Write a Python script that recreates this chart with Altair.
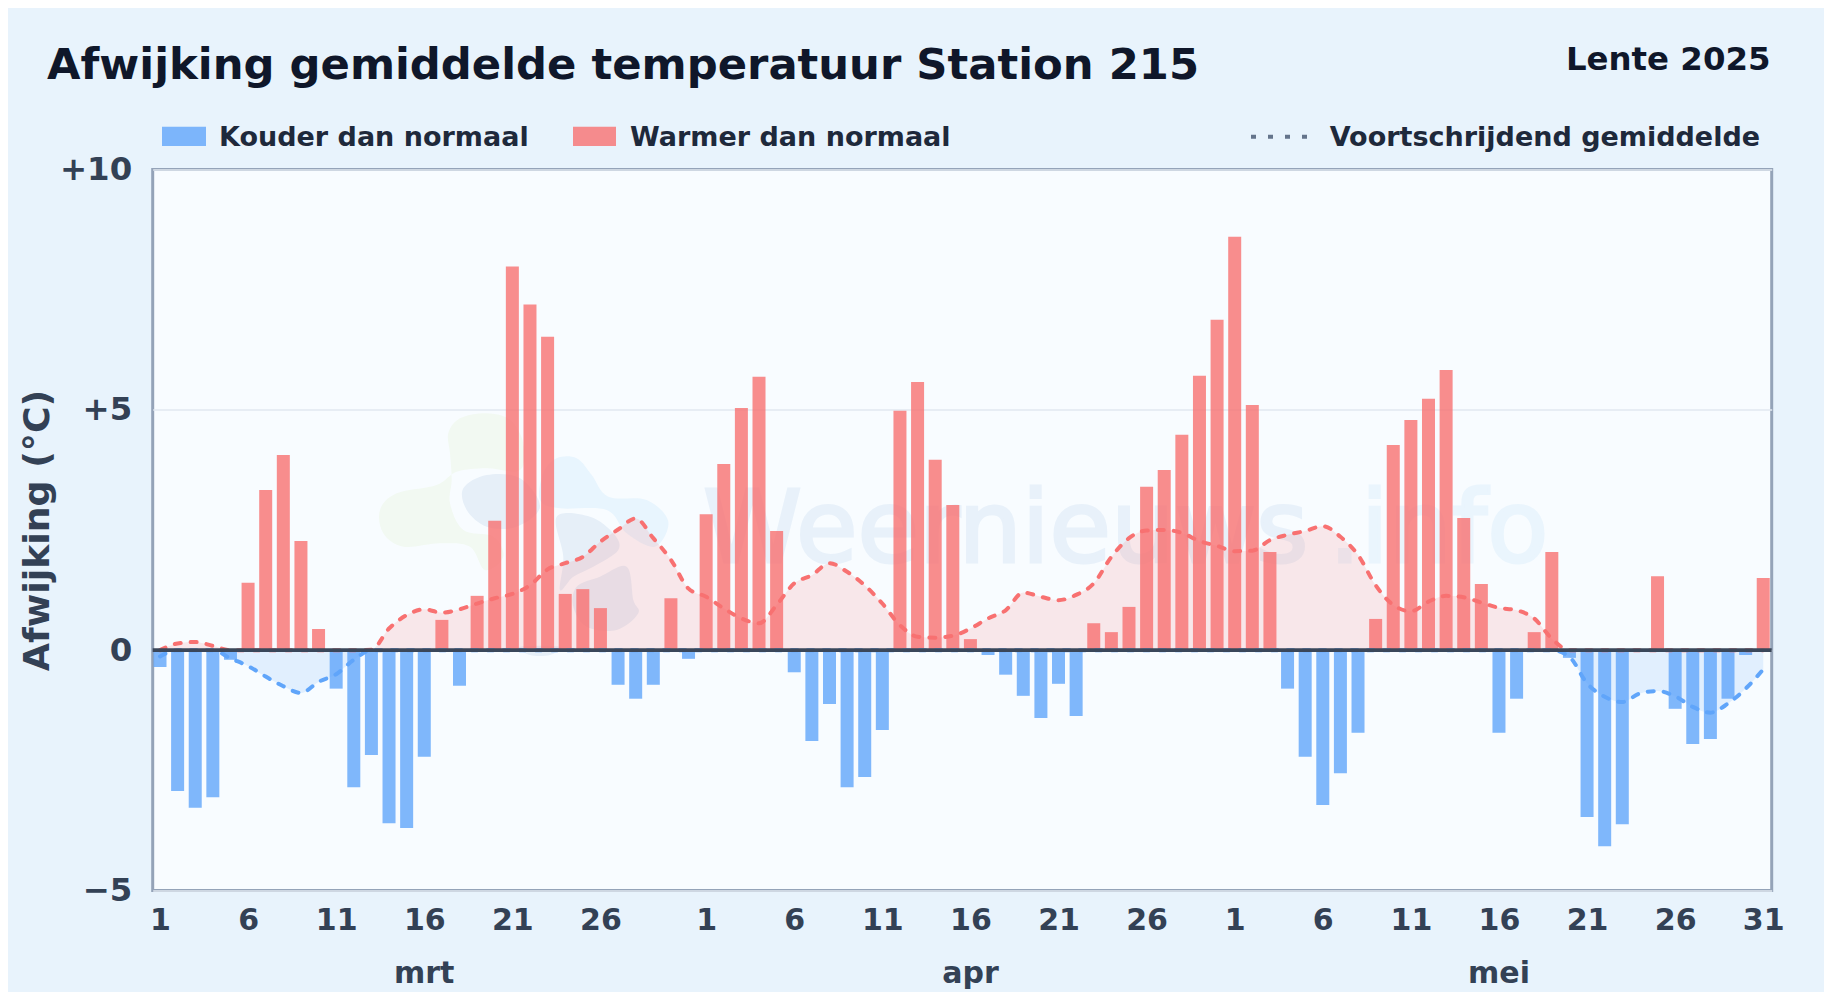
import altair as alt
import pandas as pd

# ---- data ----
march = [-0.35, -2.93, -3.28, -3.06, -0.20, 1.40, 3.33, 4.06, 2.27, 0.44, -0.80, -2.85, -2.18, -3.60, -3.70, -2.22,
         0.63, -0.74, 1.13, 2.69, 7.98, 7.19, 6.52, 1.17, 1.27, 0.875, -0.72, -1.01, -0.72, 1.08, -0.18]
april = [2.83, 3.875, 5.04, 5.69, 2.48, -0.46, -1.89, -1.12, -2.85, -2.64, -1.66, 4.98, 5.58, 3.96, 3.02, 0.23,
         -0.10, -0.51, -0.95, -1.41, -0.70, -1.37, 0.56, 0.375, 0.90, 3.40, 3.75, 4.48, 5.71, 6.875]
may = [8.60, 5.10, 2.04, -0.80, -2.22, -3.22, -2.56, -1.72, 0.65, 4.27, 4.79, 5.23, 5.83, 2.75, 1.375, -1.72,
       -1.01, 0.375, 2.04, -0.16, -3.47, -4.08, -3.62, 0.0, 1.54, -1.22, -1.95, -1.85, -1.01, -0.10, 1.50]
deviation = march + april + may

running_mean = [-0.13, 0.14, 0.17, 0.09, -0.17, -0.33, -0.55, -0.75, -0.89, -0.66, -0.50, -0.20, 0.01, 0.45, 0.73,
                0.85, 0.78, 0.85, 0.97, 1.08, 1.17, 1.35, 1.68, 1.81, 1.94, 2.26, 2.51, 2.74, 2.33, 1.88, 1.28,
                1.11, 0.87, 0.66, 0.56, 0.94, 1.39, 1.56, 1.81, 1.63, 1.35, 0.97, 0.52, 0.28, 0.26, 0.30, 0.45,
                0.66, 0.83, 1.20, 1.11, 1.04, 1.15, 1.39, 1.94, 2.33, 2.49, 2.50, 2.44, 2.27, 2.17, 2.06, 2.07,
                2.29, 2.40, 2.48, 2.58, 2.36, 1.98, 1.35, 0.94, 0.81, 1.01, 1.13, 1.10, 0.99, 0.88, 0.83, 0.66,
                0.24, -0.14, -0.69, -0.97, -1.08, -0.90, -0.85, -0.96, -1.18, -1.30, -1.11, -0.80, -0.40]

tick_days = [0, 5, 10, 15, 20, 25, 31, 36, 41, 46, 51, 56, 61, 66, 71, 76, 81, 86, 91]
months = ["mrt", "apr", "mei"]
month_pos = [15, 46, 76]

TITLE = "Afwijking gemiddelde temperatuur Station 215"
SUBTITLE = "Lente 2025"
LEG_COLD = "Kouder dan normaal"
LEG_WARM = "Warmer dan normaal"
LEG_MEAN = "Voortschrijdend gemiddelde"

# ---- style ----
FONT = "DejaVu Sans"
BG = "#e8f3fc"
PLOT = "#f8fcff"
RED = "#f87171"
BLUE = "#60a5fa"
W, H = 1619, 721
L, T = 144.7, 161.5
OX, OY = L + 8, T + 8  # page position of the plot's corner

df = pd.DataFrame({
    "i": range(len(deviation)),
    "v": deviation,
    "ma": running_mean,
})
df["pos"] = df["ma"].clip(lower=0)
df["neg"] = df["ma"].clip(upper=0)

x_scale = alt.Scale(domain=[-0.414, 91.48], nice=False, zero=False, padding=0)
y_scale = alt.Scale(domain=[-5, 10], nice=False)

x_label = ("datum.value < 31 ? datum.value + 1 : datum.value < 61 ? datum.value - 30 : datum.value - 60")
y_label = "datum.value == 10 ? '+10' : datum.value == 5 ? '+5' : datum.value == 0 ? '0' : '\u22125'"

x_axis = alt.Axis(
    values=tick_days, labelExpr=x_label, title=None, grid=False, domain=False, ticks=False,
    labelFont=FONT, labelFontSize=30, labelFontWeight="bold", labelColor="#334155", labelPadding=15,
    labelOverlap=False, labelBound=False, labelFlush=False)
y_axis = alt.Axis(
    values=[-5, 0, 5, 10], labelExpr=y_label, title="Afwijking (\u00b0C)", grid=True,
    gridColor="#e2e8f0", gridWidth=1.5, domain=False, ticks=False,
    labelFont=FONT, labelFontSize=32.4, labelFontWeight="bold", labelColor="#334155", labelPadding=21,
    labelOverlap=False, labelBound=False, labelFlush=False,
    titleFont=FONT, titleFontSize=36.3, titleFontWeight="bold", titleColor="#334155", titlePadding=3)


def blob(pts):
    """Closed smooth outline through page points for the faint logo, relative to the plot corner."""
    p = [(360 + a / 3 - OX, 400 + b / 3 - OY) for a, b in pts]
    n = len(p)
    d = f"M{p[0][0]:.1f} {p[0][1]:.1f}"
    for k in range(n):
        p0, p1, p2, p3 = p[k - 1], p[k], p[(k + 1) % n], p[(k + 2) % n]
        d += (f"C{p1[0] + (p2[0] - p0[0]) / 6:.1f} {p1[1] + (p2[1] - p0[1]) / 6:.1f} "
              f"{p2[0] - (p3[0] - p1[0]) / 6:.1f} {p2[1] - (p3[1] - p1[1]) / 6:.1f} {p2[0]:.1f} {p2[1]:.1f}")
    return d + "Z"


def shape(pts, color):
    return alt.Chart(alt.Data(values=[{}])).mark_point(
        shape=blob(pts), filled=True, fill=color, opacity=1, strokeWidth=0
    ).encode(x=alt.value(0), y=alt.value(0), size=alt.value(4))


green = [(265, 100), (300, 55), (380, 40), (450, 60), (490, 130), (480, 210), (380, 205), (290, 215), (230, 255),
         (110, 280), (60, 330), (70, 400), (130, 440), (240, 430), (330, 440), (375, 510), (430, 470), (400, 410),
         (310, 390), (270, 310), (275, 240), (270, 160)]
light = [(590, 175), (650, 175), (695, 225), (745, 290), (860, 300), (925, 365), (885, 440), (800, 400), (740, 330),
         (600, 325), (540, 300), (550, 220)]
dark_a = [(310, 265), (380, 225), (480, 235), (540, 320), (470, 380), (380, 380), (320, 330)]
dark_b = [(590, 350), (690, 350), (760, 400), (775, 450), (700, 500), (640, 530), (600, 570), (610, 470)]
dark_d = [(650, 560), (720, 530), (800, 500), (820, 600), (835, 640), (770, 690), (680, 680), (640, 620)]
dark_e = [(480, 740), (600, 740), (570, 765), (510, 765)]

wm1 = alt.Chart(alt.Data(values=[{}])).mark_text(
    text="Weernieuws", font=FONT, fontSize=100, align="left", baseline="alphabetic",
    color="#e8f1fa", stroke="#e8f1fa", strokeWidth=3
).encode(x=alt.value(703 - OX), y=alt.value(562 - OY))
wm2 = alt.Chart(alt.Data(values=[{}])).mark_text(
    text=".info", font=FONT, fontSize=100, align="left", baseline="alphabetic",
    color="#eaf5fd", stroke="#eaf5fd", strokeWidth=3
).encode(x=alt.value(1329 - OX), y=alt.value(562 - OY))

base = alt.Chart(df)
x_enc = alt.X("i:Q", scale=x_scale, axis=x_axis)

area_pos = base.mark_area(interpolate="monotone", color=RED, opacity=0.15).encode(
    x=x_enc, y=alt.Y("pos:Q", scale=y_scale, axis=y_axis, stack=None))
area_neg = base.mark_area(interpolate="monotone", color=BLUE, opacity=0.15).encode(
    x=x_enc, y=alt.Y("neg:Q", scale=y_scale, axis=y_axis, stack=None))

bars = base.mark_bar(size=13, orient="vertical", opacity=0.8).encode(
    x=x_enc, y=alt.Y("v:Q", scale=y_scale, axis=y_axis),
    color=alt.condition("datum.v >= 0", alt.value(RED), alt.value(BLUE)))

line_pos = base.mark_line(interpolate="monotone", color=RED, strokeWidth=4, strokeDash=[6, 10], strokeCap="round").encode(
    x=x_enc, y=alt.Y("pos:Q", scale=y_scale, axis=y_axis))
line_neg = base.mark_line(interpolate="monotone", color=BLUE, strokeWidth=4, strokeDash=[6, 10], strokeCap="round").encode(
    x=x_enc, y=alt.Y("neg:Q", scale=y_scale, axis=y_axis))

zero = alt.Chart(alt.Data(values=[{"z": 0}])).mark_rule(color="#3a475a", strokeWidth=3.8).encode(
    y=alt.Y("z:Q", scale=y_scale, axis=y_axis))

month_text = alt.Chart(pd.DataFrame({"i": month_pos, "m": months})).mark_text(
    font=FONT, fontSize=30, fontWeight="bold", color="#334155", baseline="alphabetic"
).encode(x=alt.X("i:Q", scale=x_scale, axis=x_axis), y=alt.value(982.7 - OY), text="m:N")


def label(text, px, py, size, color, align="left"):
    return alt.Chart(alt.Data(values=[{}])).mark_text(
        text=text, font=FONT, fontSize=size, fontWeight="bold", color=color, align=align, baseline="alphabetic"
    ).encode(x=alt.value(px - OX), y=alt.value(py - OY))


def swatch(x0, x1, color):
    return alt.Chart(alt.Data(values=[{}])).mark_rect(color=color, opacity=0.8).encode(
        x=alt.value(x0 - OX), x2=alt.value(x1 - OX), y=alt.value(126.7 - OY), y2=alt.value(146 - OY))


dots = alt.Chart(alt.Data(values=[{}])).mark_rule(color="#64748b", strokeWidth=4, strokeDash=[5, 12]).encode(
    x=alt.value(1251 - OX), x2=alt.value(1307 - OX), y=alt.value(136.7 - OY))

chart = alt.layer(
    shape(green, "#f2f9f2"), shape(light, "#e8f5fe"), shape(dark_a, "#e6eff8"), shape(dark_b, "#e6eff8"),
    shape(dark_d, "#e6eff8"), shape(dark_e, "#e6eff8"),
    wm1, wm2,
    area_pos, area_neg, bars, line_pos, line_neg, zero, month_text,
    label(TITLE, 47, 79, 43.3, "#0f172a"),
    label(SUBTITLE, 1770.5, 69.5, 32.4, "#0f172a", "right"),
    swatch(162, 206, BLUE), label(LEG_COLD, 219, 145.7, 27, "#1e293b"),
    swatch(573, 616, RED), label(LEG_WARM, 630, 145.7, 27, "#1e293b"),
    dots, label(LEG_MEAN, 1329.7, 145.7, 27, "#1e293b"),
).properties(
    width=W, height=H, background=BG,
    padding={"left": L, "top": T, "right": 1816 - L - W, "bottom": 984 - T - H},
    autosize=alt.AutoSizeParams(type="none"),
).configure_view(fill=PLOT, stroke="#94a3b8", strokeWidth=3)

chart.save("out.html", embed_options={"renderer": "svg", "actions": False})
